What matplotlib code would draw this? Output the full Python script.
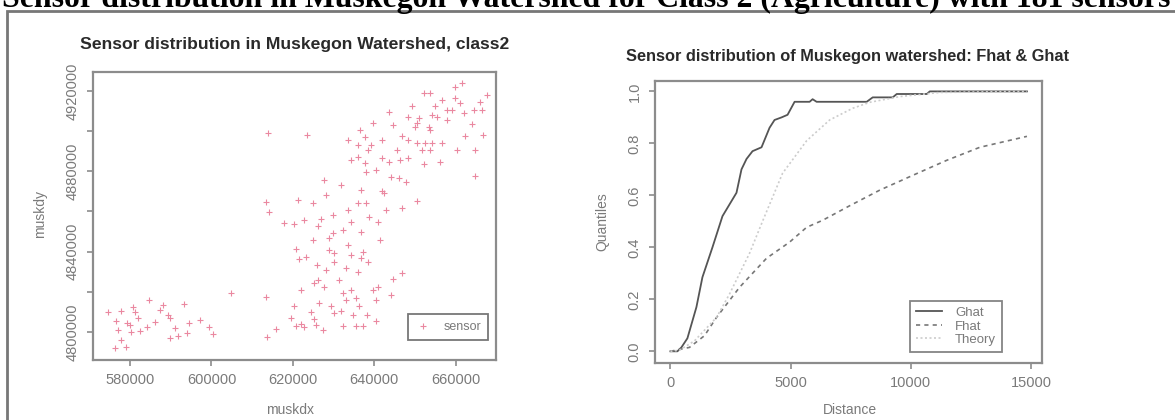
import matplotlib
matplotlib.use("Agg")
import matplotlib.pyplot as plt
from matplotlib.patches import Rectangle

plt.rcParams["font.family"] = ["Liberation Sans", "DejaVu Sans"]

PAGE_TITLE = ("Sensor distribution in Muskegon Watershed for Class 2 "
              "(Agriculture) with 181 sensors")

# sensor locations (UTM easting / northing, metres)
sensor_x = [
    574600, 577800, 576500, 579300, 580000, 580700, 581200, 580200, 582500, 584200,
    584700, 577800, 576300, 579000, 588200, 587400, 589400, 589900, 591100, 589900,
    593300, 594600, 594100, 599300, 600500, 604700, 613300, 613600, 615800, 620300,
    620800, 620800, 621500, 617800, 620300, 613800, 613300, 614100, 621200, 661500,
    659800, 652100, 653600, 659800, 661000, 666000, 649200, 654800, 657800, 659000,
    662000, 664500, 666500, 643500, 654100, 655300, 648400, 651100, 650400, 639800,
    653400, 649900, 653600, 636600, 623500, 633600, 637600, 646700, 648400, 650400,
    652400, 654100, 656600, 662300, 636100, 639300, 638500, 653600, 664700, 636100,
    641800, 643500, 646200, 648400, 652100, 656100, 637600, 627700, 638000, 644200,
    646000, 664700, 625000, 641800, 642500, 636100, 638000, 650400, 646700, 638800,
    641000, 622700, 626900, 626200, 629900, 632400, 628900, 623200, 625900, 630100,
    630100, 634300, 637300, 636800, 638500, 636100, 625200, 626200, 627700, 631400,
    632400, 634300, 635600, 639800, 641000, 644700, 646700, 644200, 626400, 629400,
    631900, 630100, 636300, 634800, 625200, 622000, 622700, 625700, 632400, 635600,
    637300, 640500, 657800, 644700, 641800, 656600, 664000, 667700, 645500, 634300,
    640500, 631900, 636800, 628200, 633600, 643000, 629900, 625000, 633600, 641500,
    628200, 633100, 622000, 638200, 627400, 619500, 624500, 640500, 633100, 582000,
    586200, 577000, 597300, 591900, 651600, 660200, 647900, 634300, 636800, 628900,
    666800,
]
sensor_y = [
    4810000, 4810500, 4805500, 4804500, 4803500, 4812500, 4810000, 4800000, 4800500, 4802500,
    4816000, 4796000, 4792000, 4792500, 4813400, 4811000, 4808500, 4807000, 4802000, 4797000,
    4814000, 4804500, 4799500, 4802500, 4799000, 4819400, 4817400, 4797500, 4801500, 4813000,
    4803000, 4841300, 4836400, 4854300, 4853800, 4899100, 4864700, 4859800, 4865700, 4924000,
    4922000, 4919000, 4919000, 4916500, 4914000, 4914500, 4912500, 4912500, 4910600, 4910600,
    4909100, 4910600, 4910600, 4909600, 4908100, 4907100, 4907100, 4906600, 4904100, 4904100,
    4902100, 4902100, 4900600, 4900600, 4898100, 4895600, 4897100, 4897600, 4895600, 4894100,
    4894100, 4894100, 4894100, 4897600, 4893100, 4893100, 4890600, 4890600, 4890600, 4887100,
    4886700, 4884700, 4885700, 4886700, 4883700, 4884700, 4884200, 4875700, 4879700, 4877200,
    4876700, 4877700, 4864200, 4870200, 4869200, 4864200, 4864200, 4865200, 4861800, 4857300,
    4854800, 4855800, 4856300, 4852800, 4849300, 4850800, 4846800, 4837400, 4833400, 4839300,
    4834900, 4838300, 4839800, 4836900, 4834900, 4829900, 4824400, 4825900, 4822400, 4825900,
    4819400, 4820900, 4816900, 4820900, 4822400, 4826400, 4829400, 4818400, 4814400, 4812900,
    4810500, 4809500, 4812900, 4808500, 4806500, 4804000, 4802500, 4803500, 4803000, 4803000,
    4803000, 4805500, 4905600, 4903100, 4895600, 4915500, 4903600, 4918000, 4890600, 4885700,
    4880700, 4873200, 4870700, 4868200, 4860800, 4860800, 4858300, 4845800, 4843300, 4845800,
    4830900, 4831900, 4820900, 4808500, 4801000, 4807000, 4810000, 4815900, 4815900, 4807000,
    4805000, 4801000, 4806000, 4798000, 4890600, 4890600, 4874700, 4854800, 4849800, 4840800,
    4898000,
]
xticks_left = [580000, 600000, 620000, 640000, 660000]
yticks_left = [4800000, 4820000, 4840000, 4860000, 4880000, 4900000, 4920000]

# G-hat (nearest neighbour distances), F-hat (empty space) and CSR theory
ghat_r = [0, 292, 458, 708, 1083, 1333, 1750, 2167, 2750, 2958, 3167, 3417, 3792,
          4125, 4333, 4625, 4875, 5167, 5792, 5917, 6083, 8167, 8417, 9250, 9417,
          10667, 10792, 14833]
ghat_q = [0, 0, 0.015, 0.05, 0.17, 0.285, 0.40, 0.52, 0.61, 0.70, 0.74, 0.77, 0.785,
          0.86, 0.89, 0.90, 0.91, 0.96, 0.96, 0.97, 0.96, 0.96, 0.977, 0.977, 0.99,
          0.99, 1.0, 1.0]
fhat_r = [0, 792, 1417, 1917, 2875, 4000, 4958, 5667, 6333, 7458, 8708, 10083,
          11500, 12875, 14833]
fhat_q = [0, 0.015, 0.06, 0.13, 0.246, 0.358, 0.42, 0.477, 0.504, 0.56, 0.62,
          0.677, 0.735, 0.785, 0.827]
theo_r = [0, 375, 1000, 1917, 2458, 3292, 3833, 4667, 5667, 6625, 7583, 8292,
          9542, 11208, 14833]
theo_q = [0, 0.004, 0.04, 0.13, 0.22, 0.377, 0.50, 0.685, 0.81, 0.89, 0.935,
          0.958, 0.98, 0.996, 1.0]
xticks_right = [0, 5000, 10000, 15000]
yticks_right = [0.0, 0.2, 0.4, 0.6, 0.8, 1.0]

W, H = 1175, 420
AXIS_GREY = "#8c8c8c"
TEXT_GREY = "#7a7a7a"


def _px(x, y):
    # pixel position (from top-left) -> figure fraction
    return x / W, 1 - y / H


def _style(ax):
    for s in ax.spines.values():
        s.set_color(AXIS_GREY)
        s.set_linewidth(1.6)
    ax.tick_params(colors=AXIS_GREY, labelcolor=TEXT_GREY, length=4.5,
                   width=1.2, labelsize=10.5, pad=5)


fig = plt.figure(figsize=(W / 100, H / 100), dpi=100)

# page heading (runs off the top of the page) and frame
fig.text(*_px(586, 7), PAGE_TITLE, ha="center", va="baseline",
         family=["Liberation Serif", "DejaVu Serif"], fontweight="bold",
         fontsize=22.9, color="black")
fig.patches.append(Rectangle(_px(7, 480), 1.2, 480 / H - 11 / H,
                             transform=fig.transFigure, fill=False,
                             edgecolor="#777777", linewidth=2))

# left: sensor scatter
ax1 = fig.add_axes([93 / W, 60 / H, 403 / W, 288 / H])
ax1.plot(sensor_x, sensor_y, linestyle="none", marker="+", markersize=4,
         markeredgewidth=0.8, color="#ea88a0", label="sensor")
ax1.set_xlim(570900, 669900)
ax1.set_ylim(4786000, 4929500)
ax1.set_xticks(xticks_left)
ax1.set_xticklabels([str(v) for v in xticks_left])
ax1.set_yticks(yticks_left)
ax1.set_yticklabels([str(v) if i % 2 == 0 else "" for i, v in enumerate(yticks_left)],
                    rotation=90, va="center")
_style(ax1)
fig.text(*_px(295, 45), "Sensor distribution in Muskegon Watershed, class2",
         ha="center", va="center", fontsize=12.6, fontweight="bold", color="#2a2a2a")
fig.text(*_px(290, 410), "muskdx", ha="center", va="center", fontsize=10,
         color=TEXT_GREY)
fig.text(*_px(40, 214), "muskdy", ha="center", va="center", rotation=90,
         fontsize=10, color=TEXT_GREY)
leg1 = ax1.legend(loc="lower right", bbox_to_anchor=(0.98, 0.069), borderaxespad=0,
                  frameon=True, fancybox=False, fontsize=9, handlelength=1.4,
                  labelcolor=TEXT_GREY, borderpad=0.55, handletextpad=0.9)
leg1.get_frame().set_edgecolor("#555555")
leg1.get_frame().set_linewidth(1.3)

# right: F-hat / G-hat
ax2 = fig.add_axes([655 / W, 57 / H, 387 / W, 282 / H])
ax2.plot(ghat_r, ghat_q, color="#555555", linewidth=1.3, label="Ghat")
ax2.plot(fhat_r, fhat_q, color="#777777", linewidth=1.2, linestyle=(0, (2.5, 2.5)),
         label="Fhat")
ax2.plot(theo_r, theo_q, color="#cccccc", linewidth=1.2, linestyle=(0, (1.2, 1.5)),
         label="Theory")
ax2.set_xlim(-640, 15460)
ax2.set_ylim(-0.045, 1.04)
ax2.set_xticks(xticks_right)
ax2.set_yticks(yticks_right)
ax2.set_yticklabels(["%.1f" % v for v in yticks_right], rotation=90, va="center")
_style(ax2)
fig.text(*_px(848, 57), "Sensor distribution of Muskegon watershed: Fhat & Ghat",
         ha="center", va="center", fontsize=11.8, fontweight="bold", color="#2a2a2a")
fig.text(*_px(850, 410), "Distance", ha="center", va="center", fontsize=10,
         color=TEXT_GREY)
fig.text(*_px(602, 222), "Quantiles", ha="center", va="center", rotation=90,
         fontsize=10, color=TEXT_GREY)
leg2 = ax2.legend(loc="lower right", bbox_to_anchor=(0.897, 0.039), borderaxespad=0,
                  frameon=True, fancybox=False, fontsize=9.5, handlelength=2.0,
                  labelcolor=TEXT_GREY, borderpad=0.45, labelspacing=0.1,
                  handletextpad=1.0)
leg2.get_frame().set_edgecolor("#666666")
leg2.get_frame().set_linewidth(1.3)

fig.savefig("out.png", dpi=100)
